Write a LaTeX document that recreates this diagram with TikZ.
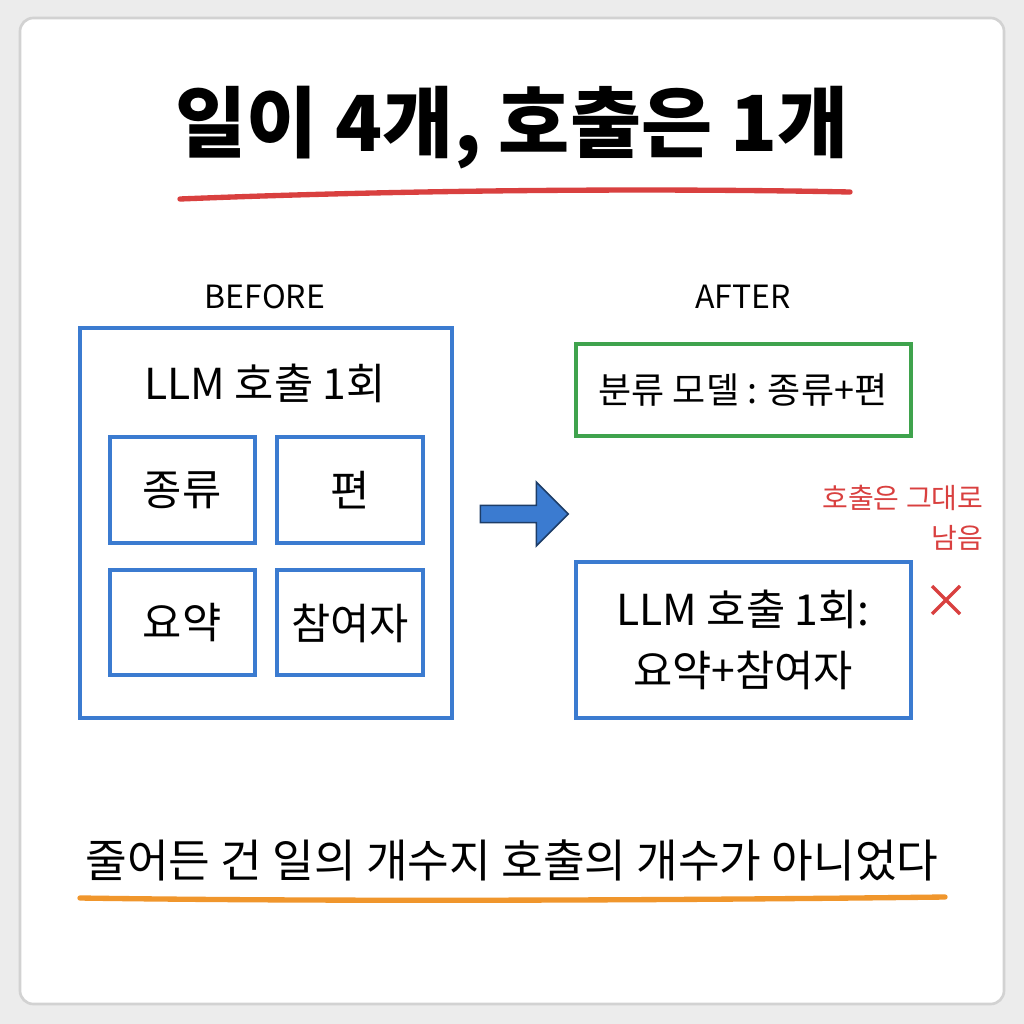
\documentclass[tikz,border=0pt]{standalone}
\usepackage{fontspec}
\setmainfont{Noto Sans CJK KR}
\usetikzlibrary{shapes.arrows}
\definecolor{bl}{HTML}{3B7BD0}
\definecolor{gr}{HTML}{3FA34D}
\definecolor{rd}{HTML}{D9403F}
\definecolor{og}{HTML}{F0962C}
\begin{document}
\begin{tikzpicture}[x=0.75pt,y=-0.75pt,
 box/.style={draw=bl,line width=2.6pt},
 t/.style={font=\fontsize{32}{38}\selectfont,align=center}]
\useasboundingbox (0,0) rectangle (1024,1024);
\fill[gray!15] (0,0) rectangle (1024,1024);
\draw[gray!35,line width=2pt,fill=white,rounded corners=10pt] (20,18) rectangle (1004,1004);
\node[font=\fontsize{58}{66}\selectfont\bfseries] (title) at (512,128) {일이 4개, 호출은 1개};
\draw[rd,line width=4pt,line cap=round] (180,199) .. controls (400,190) and (650,188) .. (850,192);
\node[font=\fontsize{24}{28}\selectfont] (bf) at (265,297) {BEFORE};
\node[font=\fontsize{24}{28}\selectfont] (af) at (743,297) {AFTER};
\draw[box] (80,328) rectangle (452,718);
\node[t] (llm) at (265,383) {LLM 호출 1회};
\draw[box] (110,437) rectangle (255,543); \node[t] (a) at (182,490) {종류};
\draw[box] (277,437) rectangle (423,543); \node[t] (b) at (350,490) {편};
\draw[box] (110,570) rectangle (255,675); \node[t] (c) at (182,623) {요약};
\draw[box] (277,570) rectangle (423,675); \node[t] (d) at (350,623) {참여자};
\node[single arrow,draw=bl!50!black,fill=bl,line width=1.2pt,minimum height=66pt,minimum width=48pt,single arrow head extend=7pt,inner sep=2pt] (arr) at (520,514) {};
\draw[draw=gr,line width=2.6pt] (576,344) rectangle (911,436);
\node[font=\fontsize{27}{32}\selectfont] (g) at (743,390) {분류 모델 : 종류+편};
\node[font=\fontsize{21}{30}\selectfont,text=rd,align=right,anchor=east] (r) at (988,518) {호출은 그대로\\남음};
\node (x) at (946,600) {};
\draw[rd,line width=2.5pt] (932,586) -- (960,614) (960,586) -- (932,614);
\draw[box] (576,562) rectangle (911,718);
\node[t,font=\fontsize{32}{46}\selectfont] (l2) at (743,640) {LLM 호출 1회:\\요약+참여자};
\node[font=\fontsize{34}{40}\selectfont] (bt) at (512,860) {줄어든 건 일의 개수지 호출의 개수가 아니었다};
\draw[og,line width=4pt,line cap=round] (80,898) .. controls (350,902) and (700,900) .. (945,897);
\end{tikzpicture}
\end{document}
